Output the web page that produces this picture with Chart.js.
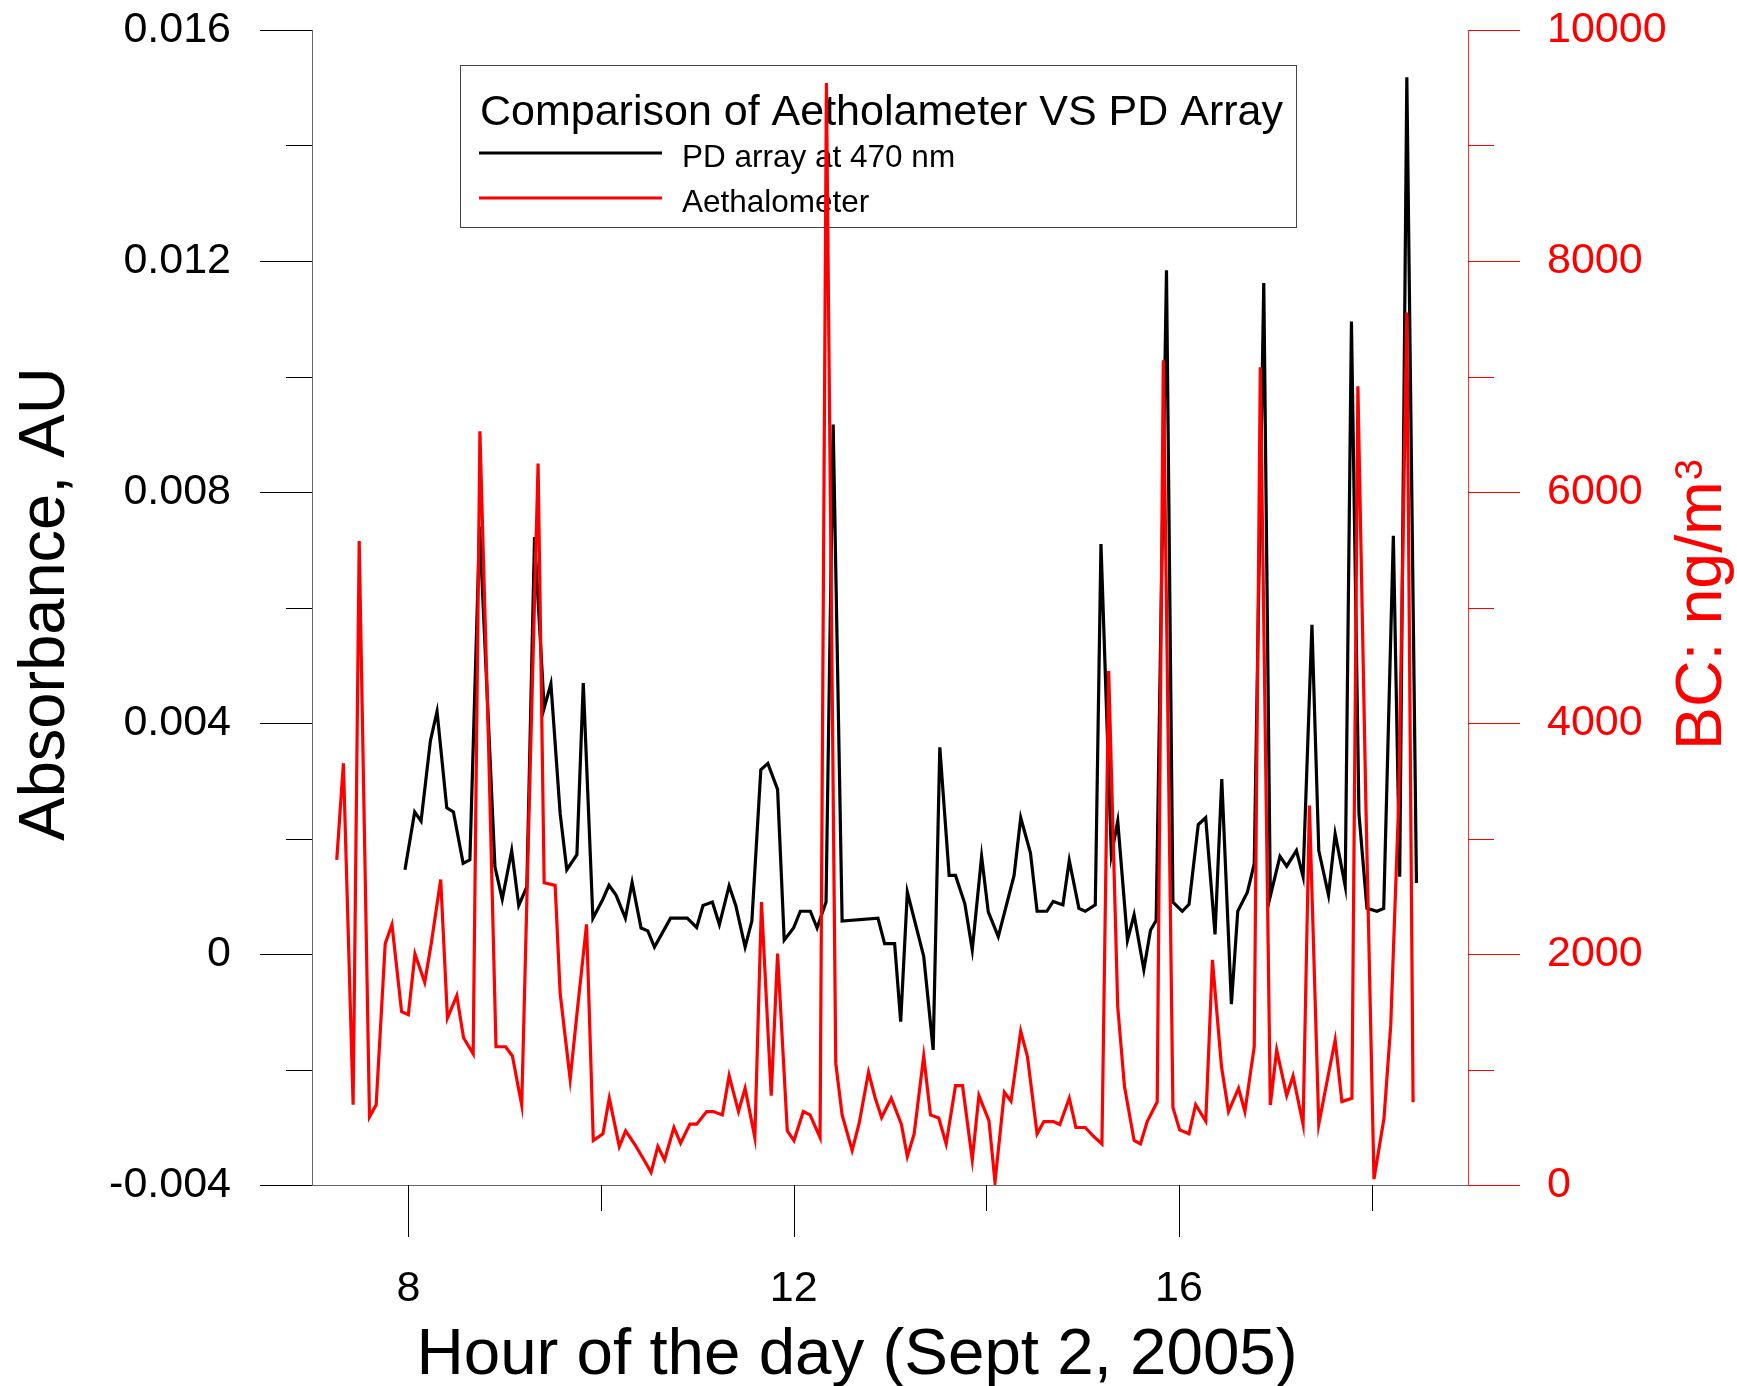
<!DOCTYPE html>
<html>
<head>
<meta charset="utf-8">
<script src="https://cdn.jsdelivr.net/npm/chart.js@4.4.1/dist/chart.umd.min.js"></script>
<style>
  html, body { margin: 0; padding: 0; background: #fff; overflow: hidden; }
  canvas { display: block; }
</style>
</head>
<body>
<canvas id="graph" width="1737" height="1386"></canvas>
<script>
// PD array absorbance (left axis)
const pdHours = [7.965, 8.066, 8.132, 8.229, 8.298, 8.399, 8.468, 8.569, 8.639, 8.74,
  8.899, 8.975, 9.073, 9.146, 9.23, 9.31, 9.41, 9.48, 9.576, 9.645,
  9.75, 9.816, 9.916, 10.017, 10.083, 10.156, 10.253, 10.323, 10.416, 10.486,
  10.555, 10.722, 10.895, 10.993, 11.059, 11.156, 11.229, 11.33, 11.399, 11.496,
  11.566, 11.659, 11.732, 11.833, 11.902, 11.999, 12.069, 12.173, 12.243, 12.336,
  12.41, 12.503, 12.875, 12.944, 13.048, 13.111, 13.18, 13.35, 13.448, 13.517,
  13.614, 13.68, 13.777, 13.854, 13.951, 14.02, 14.124, 14.288, 14.357, 14.458,
  14.527, 14.628, 14.694, 14.795, 14.861, 14.961, 15.027, 15.131, 15.19, 15.298,
  15.364, 15.465, 15.534, 15.635, 15.704, 15.763, 15.87, 15.937, 16.034, 16.104,
  16.2, 16.277, 16.374, 16.444, 16.544, 16.61, 16.71, 16.781, 16.88, 16.948,
  17.048, 17.118, 17.219, 17.288, 17.38, 17.451, 17.552, 17.621, 17.725, 17.79,
  17.868, 17.951, 18.055, 18.125, 18.225, 18.291, 18.365, 18.465];
const pdAbsorbance = [0.00146, 0.00246, 0.0023, 0.00369, 0.0042, 0.00253, 0.00246, 0.00157, 0.00163, 0.0074,
  0.00151, 0.00095, 0.00179, 0.00084, 0.00116, 0.00722, 0.00426, 0.00468, 0.00243, 0.00146,
  0.00172, 0.00469, 0.00062, 0.00094, 0.00119, 0.00102, 0.00062, 0.00124, 0.00045, 0.0004,
  0.00012, 0.00062, 0.00062, 0.00046, 0.00084, 0.0009, 0.00051, 0.00118, 0.00084, 0.00012,
  0.00057, 0.00319, 0.0033, 0.00285, 0.00024, 0.00045, 0.00074, 0.00074, 0.00045, 0.0009,
  0.00917, 0.00057, 0.00062, 0.00018, 0.00018, -0.00117, 0.00107, -0.00004, -0.00166, 0.00358,
  0.00136, 0.00136, 0.00087, 0.00007, 0.00169, 0.00073, 0.0003, 0.00136, 0.00236, 0.00175,
  0.00074, 0.00074, 0.00091, 0.00085, 0.00162, 0.00079, 0.00074, 0.00085, 0.0071, 0.00172,
  0.0023, 0.00024, 0.00068, -0.00027, 0.00041, 0.00058, 0.01184, 0.0009, 0.00074, 0.00086,
  0.00224, 0.00236, 0.00034, 0.00303, -0.00087, 0.00074, 0.00107, 0.00156, 0.01162, 0.001,
  0.00169, 0.00152, 0.00179, 0.00134, 0.0057, 0.00179, 0.00102, 0.00208, 0.00118, 0.01095,
  0.00243, 0.00079, 0.00074, 0.00079, 0.00724, 0.00134, 0.01518, 0.00123];

// Aethalometer black carbon (right axis)
const aethHours = [7.257, 7.326, 7.427, 7.49, 7.597, 7.666, 7.76, 7.83, 7.93, 8.0,
  8.069, 8.17, 8.236, 8.336, 8.406, 8.503, 8.573, 8.673, 8.743, 8.83,
  8.91, 9.01, 9.08, 9.177, 9.26, 9.347, 9.41, 9.524, 9.576, 9.68,
  9.75, 9.85, 9.92, 10.02, 10.086, 10.19, 10.256, 10.357, 10.43, 10.52,
  10.59, 10.66, 10.757, 10.826, 10.923, 10.993, 11.097, 11.166, 11.26, 11.33,
  11.427, 11.496, 11.597, 11.666, 11.767, 11.833, 11.934, 12.003, 12.1, 12.17,
  12.274, 12.34, 12.437, 12.503, 12.607, 12.68, 12.777, 12.847, 12.913, 13.013,
  13.118, 13.18, 13.25, 13.35, 13.42, 13.506, 13.583, 13.68, 13.753, 13.854,
  13.923, 14.027, 14.09, 14.187, 14.256, 14.357, 14.427, 14.527, 14.597, 14.697,
  14.763, 14.861, 14.93, 15.027, 15.115, 15.2, 15.27, 15.364, 15.434, 15.534,
  15.6, 15.67, 15.774, 15.837, 15.937, 16.007, 16.104, 16.173, 16.278, 16.347,
  16.441, 16.514, 16.618, 16.684, 16.781, 16.844, 16.948, 17.014, 17.118, 17.184,
  17.288, 17.354, 17.451, 17.535, 17.621, 17.691, 17.795, 17.857, 17.94, 18.024,
  18.128, 18.198, 18.28, 18.365, 18.43];
const aethBC = [2815, 3651, 695, 5575, 590, 695, 2090, 2255, 1500, 1475,
  2000, 1755, 2080, 2645, 1445, 1640, 1275, 1135, 6525, 3900,
  1197, 1197, 1117, 693, 3450, 6246, 2617, 2594, 1658, 915,
  1480, 2257, 385, 443, 751, 334, 469, 343, 240, 110,
  334, 218, 498, 362, 527, 527, 636, 636, 607, 947,
  636, 837, 411, 2450, 774, 2004, 469, 385, 636, 607,
  411, 9540, 1053, 607, 299, 535, 976, 751, 584, 751,
  527, 247, 440, 1117, 607, 580, 356, 860, 860, 218,
  774, 558, 25, 803, 725, 1333, 1111, 443, 549, 549,
  524, 751, 498, 498, 420, 356, 4451, 1543, 852, 385,
  356, 549, 720, 7140, 670, 477, 443, 696, 552, 1950,
  1025, 636, 837, 636, 1197, 7080, 693, 1169, 774, 944,
  526, 3285, 526, 890, 1255, 722, 751, 6915, 3300, 51,
  578, 1384, 3300, 7555, 717];

// axis ticks (all marks) and the ones that carry a label
const hourTicks = [8, 10, 12, 14, 16, 18];
const hourLabels = [8, 12, 16];
const absTicks = [-0.004, -0.002, 0, 0.002, 0.004, 0.006, 0.008, 0.01, 0.012, 0.014, 0.016];
const absLabels = [-0.004, 0, 0.004, 0.008, 0.012, 0.016];
const bcTicks = [0, 1000, 2000, 3000, 4000, 5000, 6000, 7000, 8000, 9000, 10000];
const bcLabels = [0, 2000, 4000, 6000, 8000, 10000];

const FONT = "'Liberation Sans', Arial, Helvetica, sans-serif";
const RED = '#ff0000';

function toPoints(xs, ys) {
  return xs.map((x, i) => ({ x: x, y: ys[i] }));
}

// tick marks: long at labelled values, short in between
const tickMarks = {
  id: 'tickMarks',
  afterDraw(chart) {
    const { ctx, chartArea: a, scales } = chart;
    ctx.save();
    ctx.lineWidth = 1;
    ctx.strokeStyle = '#000';
    ctx.beginPath();
    scales.x.ticks.forEach((t) => {
      const px = Math.round(scales.x.getPixelForValue(t.value)) + 0.5;
      const len = hourLabels.includes(t.value) ? 52 : 26;
      ctx.moveTo(px, a.bottom);
      ctx.lineTo(px, a.bottom + len);
    });
    scales.y.ticks.forEach((t) => {
      const py = Math.round(scales.y.getPixelForValue(t.value)) + 0.5;
      const len = absLabels.includes(t.value) ? 52 : 26;
      ctx.moveTo(a.left - len, py);
      ctx.lineTo(a.left, py);
    });
    ctx.stroke();
    ctx.strokeStyle = RED;
    ctx.beginPath();
    scales.y2.ticks.forEach((t) => {
      const py = Math.round(scales.y2.getPixelForValue(t.value)) + 0.5;
      const len = bcLabels.includes(t.value) ? 52 : 26;
      ctx.moveTo(a.right, py);
      ctx.lineTo(a.right + len, py);
    });
    ctx.stroke();
    ctx.restore();
  }
};

// boxed legend with its own title, sits under the data lines
const boxLegend = {
  id: 'boxLegend',
  beforeDatasetsDraw(chart) {
    const ctx = chart.ctx;
    const ds = chart.data.datasets;
    ctx.save();
    ctx.fillStyle = '#fff';
    ctx.fillRect(460, 65, 837, 162);
    ctx.strokeStyle = '#444';
    ctx.lineWidth = 1;
    ctx.strokeRect(460.5, 65.5, 836, 162);

    ctx.fillStyle = '#000';
    ctx.textAlign = 'left';
    ctx.textBaseline = 'alphabetic';
    ctx.font = '43px ' + FONT;
    ctx.fillText('Comparison of Aetholameter VS PD Array', 480, 125);

    const rows = [153, 198];
    ctx.font = '31.5px ' + FONT;
    ds.forEach((d, i) => {
      ctx.strokeStyle = d.borderColor;
      ctx.lineWidth = 3;
      ctx.beginPath();
      ctx.moveTo(479, rows[i]);
      ctx.lineTo(662, rows[i]);
      ctx.stroke();
      ctx.fillStyle = '#000';
      ctx.fillText(d.label, 682, rows[i] + 13.5);
    });
    ctx.restore();
  }
};

// axis titles
const axisTitles = {
  id: 'axisTitles',
  afterDraw(chart) {
    const ctx = chart.ctx;
    ctx.save();
    ctx.textBaseline = 'alphabetic';

    ctx.fillStyle = '#000';
    ctx.font = '65.5px ' + FONT;
    ctx.textAlign = 'center';
    ctx.fillText('Hour of the day (Sept 2, 2005)', 857, 1374);

    ctx.save();
    ctx.translate(63.5, 604);
    ctx.rotate(-Math.PI / 2);
    ctx.font = '65px ' + FONT;
    ctx.fillText('Absorbance, AU', 0, 0);
    ctx.restore();

    ctx.save();
    ctx.translate(1720.5, 750);
    ctx.rotate(-Math.PI / 2);
    ctx.fillStyle = RED;
    ctx.textAlign = 'left';
    ctx.font = '64.5px ' + FONT;
    const main = 'BC: ng/m';
    ctx.fillText(main, 0, 0);
    const w = ctx.measureText(main).width;
    ctx.font = '38px ' + FONT;
    ctx.fillText('3', w + 1, -19);
    ctx.restore();

    ctx.restore();
  }
};

const tickFont = { family: FONT, size: 43 };

// label offset comes from an invisible tick length, so it does not eat into the plot height
const config = {
  type: 'line',
  data: {
    datasets: [
      {
        label: 'PD array at 470 nm',
        data: toPoints(pdHours, pdAbsorbance),
        yAxisID: 'y',
        borderColor: '#000000',
        borderWidth: 3.2,
        pointRadius: 0,
        tension: 0,
        order: 1
      },
      {
        label: 'Aethalometer',
        data: toPoints(aethHours, aethBC),
        yAxisID: 'y2',
        borderColor: RED,
        borderWidth: 3.2,
        pointRadius: 0,
        tension: 0,
        order: 0
      }
    ]
  },
  options: {
    responsive: false,
    animation: false,
    devicePixelRatio: 1,
    layout: { padding: { top: 30, left: 0, right: 0, bottom: 0 } },
    plugins: {
      legend: { display: false },
      tooltip: { enabled: false }
    },
    scales: {
      x: {
        type: 'linear',
        position: 'bottom',
        min: 7,
        max: 19,
        afterBuildTicks: (s) => { s.ticks = hourTicks.map((v) => ({ value: v })); },
        afterFit: (s) => { s.height = 201; },
        grid: { display: false, drawTicks: true, tickLength: 78 },
        border: { display: true, color: '#666', width: 1 },
        ticks: {
          autoSkip: false,
          maxRotation: 0,
          minRotation: 0,
          padding: 0,
          color: '#000',
          font: tickFont,
          callback: (v) => (hourLabels.includes(v) ? String(v) : '')
        }
      },
      y: {
        type: 'linear',
        position: 'left',
        min: -0.004,
        max: 0.016,
        afterBuildTicks: (s) => { s.ticks = absTicks.map((v) => ({ value: v })); },
        afterFit: (s) => { s.width = 312; },
        grid: { display: false, drawTicks: true, tickLength: 81 },
        border: { display: true, color: '#666', width: 1 },
        ticks: {
          autoSkip: false,
          padding: 0,
          color: '#000',
          font: tickFont,
          callback: (v) => (absLabels.includes(v) ? (v === 0 ? '0' : String(v)) : '')
        }
      },
      y2: {
        type: 'linear',
        position: 'right',
        min: 0,
        max: 10000,
        afterBuildTicks: (s) => { s.ticks = bcTicks.map((v) => ({ value: v })); },
        afterFit: (s) => { s.width = 269; },
        grid: { display: false, drawTicks: true, tickLength: 79 },
        border: { display: true, color: 'rgba(255,0,0,0.8)', width: 1 },
        ticks: {
          autoSkip: false,
          padding: 0,
          color: RED,
          font: tickFont,
          callback: (v) => (bcLabels.includes(v) ? String(v) : '')
        }
      }
    }
  },
  plugins: [boxLegend, tickMarks, axisTitles]
};

new Chart(document.getElementById('graph'), config);
</script>
</body>
</html>
